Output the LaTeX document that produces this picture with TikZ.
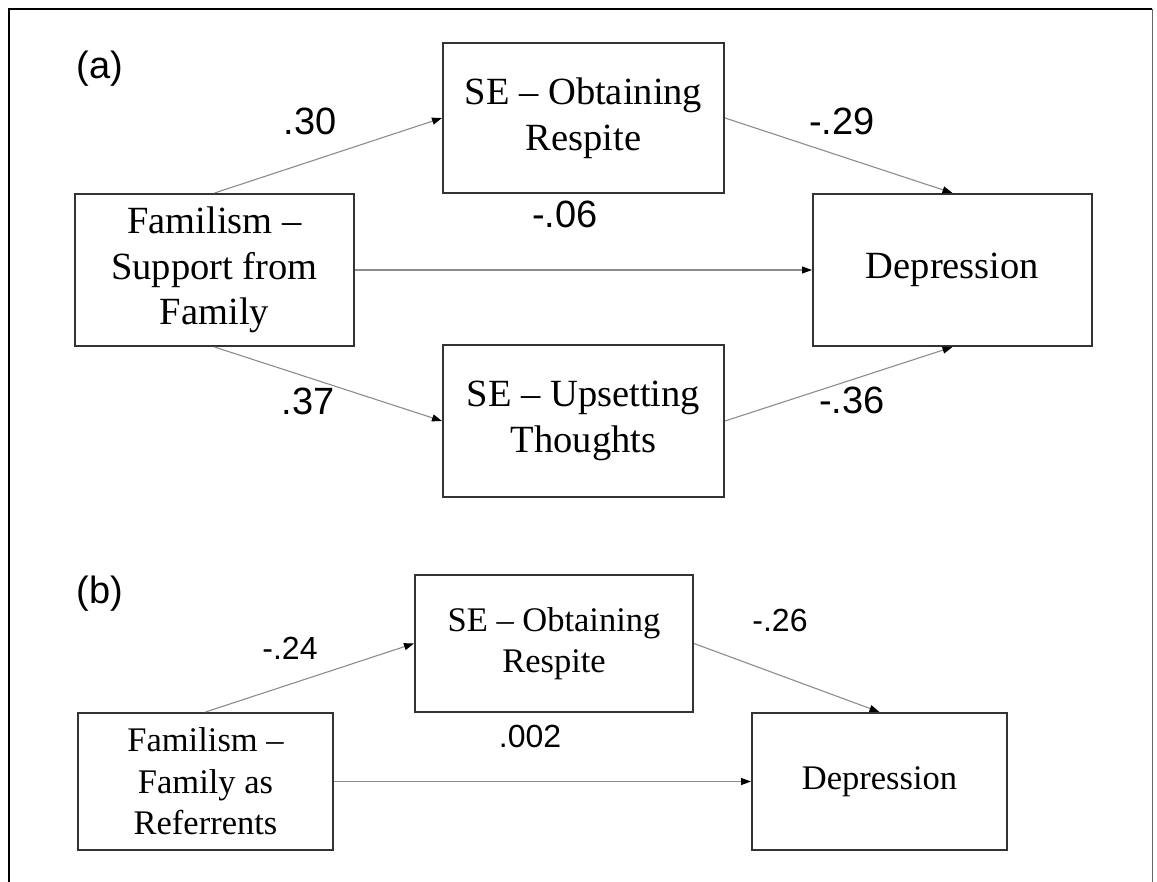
\documentclass[tikz,border=0pt]{standalone}
\usepackage{fontspec}
\setmainfont{Liberation Serif}
\newfontfamily\labelfont{Liberation Sans}
\usetikzlibrary{arrows.meta}
\begin{document}
\begin{tikzpicture}[x=1pt,y=-1pt,
  box/.style={draw=black!80, line width=2pt, align=center, inner sep=0pt, font=\fontsize{38.5}{45.6}\selectfont},
  boxb/.style={box, font=\fontsize{34.5}{41.5}\selectfont},
  link/.style={draw=black!45, line width=1.1pt, -{Triangle[length=10pt,width=7pt,color=black]}},
  coef/.style={font=\labelfont\fontsize{38}{40}\selectfont, inner sep=0pt},
  coefb/.style={font=\labelfont\fontsize{32}{36}\selectfont, inner sep=0pt},
]
\useasboundingbox (0,0) rectangle (1157,882);
% frame
\draw[line width=2.5pt, line join=miter] (9,882) -- (9,9) -- (1152,9);
\draw[line width=1pt, black!60] (1152,9) -- (1152,882);

% part (a)
\node[coef] (la) at (100,69) {(a)};
\node[box, minimum width=279pt, minimum height=152pt] (F1) at (214.5,270) {Familism –\\Support from\\Family};
\node[box, minimum width=281pt, minimum height=150pt] (SE1) at (583.5,118) {SE – Obtaining\\Respite};
\node[box, minimum width=279pt, minimum height=152pt] (D1) at (952.5,270) {Depression};
\node[box, minimum width=281pt, minimum height=152pt] (SE2) at (583.5,421) {SE – Upsetting\\Thoughts};

\draw[link] (F1.north) -- (SE1.west);
\draw[link] (SE1.east) -- (D1.north);
\draw[link] (F1.east) -- (D1.west);
\draw[link] (F1.south) -- (SE2.west);
\draw[link] (SE2.east) -- (D1.south);

\node[coef] (c1) at (310,121) {.30};
\node[coef] (c2) at (842,121) {-.29};
\node[coef] (c3) at (565,214) {-.06};
\node[coef] (c4) at (308,401) {.37};
\node[coef] (c5) at (852,400) {-.36};

% part (b)
\node[coef] (lb) at (100,594) {(b)};
\node[boxb, minimum width=255pt, minimum height=137pt] (F2) at (205.5,781.5) {Familism –\\Family as\\Referrents};
\node[boxb, minimum width=278pt, minimum height=137pt] (SE3) at (554,643.5) {SE – Obtaining\\Respite};
\node[boxb, minimum width=255pt, minimum height=137pt] (D2) at (879.5,781.5) {Depression};

\draw[link] (F2.north) -- (SE3.west);
\draw[link] (SE3.east) -- (D2.north);
\draw[link] (F2.east) -- (D2.west);

\node[coefb] (c6) at (290,648) {-.24};
\node[coefb] (c7) at (780,620) {-.26};
\node[coefb] (c8) at (530,736) {.002};
\end{tikzpicture}
\end{document}
